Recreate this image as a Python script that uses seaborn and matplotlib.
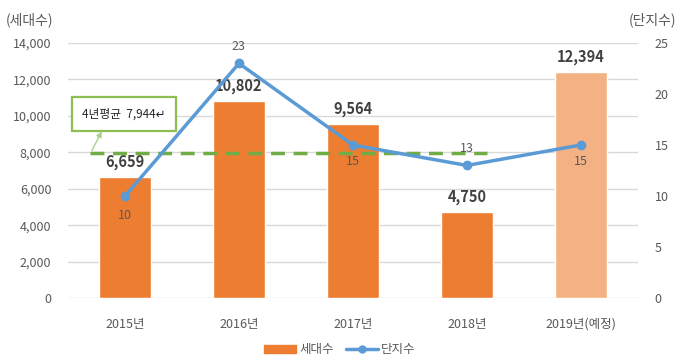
import matplotlib.pyplot as plt
import matplotlib.patches as mpatches
from matplotlib.lines import Line2D
import numpy as np
import pandas as pd
import seaborn as sns

sns.set_theme(style="white")
plt.rcParams['font.family'] = ['Noto Sans CJK KR', 'DejaVu Sans']

years = ['2015년', '2016년', '2017년', '2018년', '2019년(예정)']
households = [6659, 10802, 9564, 4750, 12394]
complexes = [10, 23, 15, 13, 15]
avg_4yr = 7944
bar_colors = ['#ED7D31', '#ED7D31', '#ED7D31', '#ED7D31', '#F4B183']
line_offsets = [-14, 12, -12, 12, -12]

df = pd.DataFrame({'year': years, 'households': households, 'complexes': complexes})

fig = plt.figure(figsize=(6.8, 3.64), dpi=100)
ax = fig.add_axes([0.1, 0.181, 0.838, 0.701])
sns.barplot(data=df, x='year', y='households', hue='year', palette=bar_colors,
            width=0.46, legend=False, ax=ax, saturation=1)
ax.set_ylim(0, 14000)
ax.set_xlim(-0.5, 4.5)
ax.set_yticks(range(0, 14001, 2000))
ax.set_yticklabels([f'{v:,}' for v in range(0, 14001, 2000)])
ax.yaxis.grid(True, color='#D9D9D9', linewidth=1)
ax.set_axisbelow(True)
ax.set_xlabel('')
ax.set_ylabel('')
for s in ax.spines.values():
    s.set_visible(False)
ax.tick_params(axis='both', length=0, labelsize=9, colors='#595959', pad=12)
ax.tick_params(axis='x', pad=14)

for i, v in enumerate(households):
    ax.annotate(f'{v:,}', (i, v), xytext=(0, 5), textcoords='offset points',
                ha='center', va='bottom', fontsize=10.5, fontweight='bold', color='#404040')

# 4-year average line
ax.plot([-0.31, 3.18], [avg_4yr, avg_4yr], color='#70AD47', linestyle=(0, (4, 2.5)),
        linewidth=2.5, zorder=3)
ax.annotate('4년평균  7,944↵', xy=(-0.29, avg_4yr + 150), xytext=(-0.01, 10100),
            ha='center', va='center', fontsize=8.5, color='#262626',
            bbox=dict(boxstyle='square,pad=0.85', fc='white', ec='#8CBE50', lw=1.6),
            arrowprops=dict(arrowstyle='<|-', color='#A9D18E', lw=1, mutation_scale=8,
                            relpos=(0.3, 0), shrinkA=0, shrinkB=0),
            zorder=5)

ax2 = ax.twinx()
sns.lineplot(x=np.arange(len(years)), y=complexes, ax=ax2, color='#5B9BD5',
             marker='o', markersize=7, linewidth=2.5, markeredgewidth=0, zorder=4)
ax2.set_ylim(0, 25)
ax2.set_yticks(range(0, 26, 5))
for s in ax2.spines.values():
    s.set_visible(False)
ax2.tick_params(axis='y', length=0, labelsize=9, colors='#595959', pad=12)
ax2.grid(False)
for i, v in enumerate(complexes):
    ax2.annotate(str(v), (i, v), xytext=(0, line_offsets[i]), textcoords='offset points',
                 ha='center', va='center', fontsize=9, color='#595959')

fig.text(0.008, 0.945, '(세대수)', fontsize=10, color='#595959', ha='left', va='center')
fig.text(0.995, 0.945, '(단지수)', fontsize=10, color='#595959', ha='right', va='center')

handles = [mpatches.Patch(color='#ED7D31', label='세대수'),
           Line2D([0], [0], color='#5B9BD5', marker='o', linewidth=2.5, markersize=5, label='단지수')]
fig.legend(handles=handles, loc='lower center', bbox_to_anchor=(0.5, -0.01), ncol=2,
           frameon=False, fontsize=9, labelcolor='#595959', handlelength=2.5,
           handleheight=0.5, columnspacing=1.0, handletextpad=0.3)

plt.savefig('out.png', dpi=100)
